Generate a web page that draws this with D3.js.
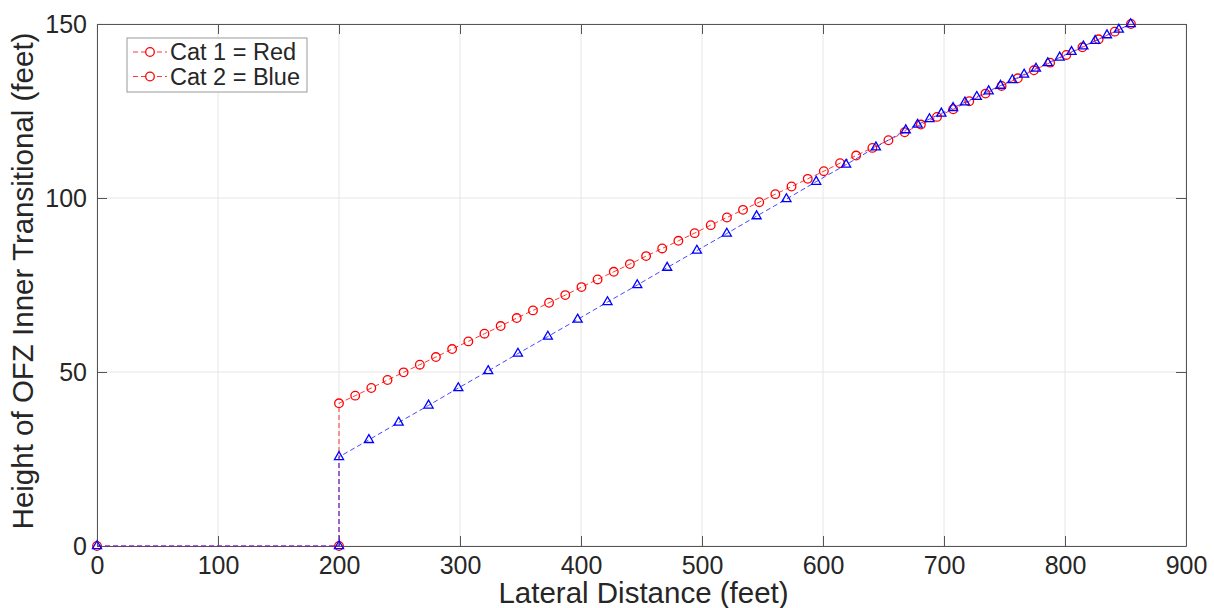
<!DOCTYPE html>
<html>
<head>
<meta charset="utf-8">
<script src="https://cdn.jsdelivr.net/npm/d3@7"></script>
<style>
    body { margin: 0; background: #fff; }
    text { font-family: "Liberation Sans", Arial, Helvetica, sans-serif; fill: #262626; }
</style>
</head>
<body>
<div id="chart"></div>
<script>
// data
const redX = [0, 200, 200, 213.4, 226.7, 240.1, 253.4, 266.8, 280.1, 293.5, 306.9, 320.2,
    333.6, 346.9, 360.3, 373.6, 387.0, 400.4, 413.7, 427.1, 440.4, 453.8, 467.1, 480.5,
    493.9, 507.2, 520.6, 533.9, 547.3, 560.6, 574.0, 587.4, 600.7, 614.1, 627.4, 640.8,
    654.1, 667.5, 680.9, 694.2, 707.6, 720.9, 734.3, 747.6, 761.0, 774.3, 787.7, 801.1,
    814.4, 827.8, 841.1, 854.5];
const redY = [0, 0, 41.0, 43.2, 45.4, 47.7, 49.9, 52.1, 54.3, 56.6, 58.8, 61.0,
    63.2, 65.5, 67.7, 69.9, 72.1, 74.4, 76.6, 78.8, 81.0, 83.3, 85.5, 87.7,
    89.9, 92.2, 94.4, 96.6, 98.8, 101.1, 103.3, 105.5, 107.7, 110.0, 112.2, 114.4,
    116.6, 118.9, 121.1, 123.3, 125.5, 127.8, 130.0, 132.2, 134.4, 136.7, 138.9, 141.1,
    143.3, 145.6, 147.8, 150.0];

const blueX = [0, 200, 200, 224.7, 249.3, 274.0, 298.6, 323.3, 347.9, 372.6, 397.2, 421.9,
    446.5, 471.2, 495.8, 520.5, 545.1, 569.8, 594.4, 619.1, 643.7, 668.4,
    678.2, 688.0, 697.8, 707.5, 717.3, 727.1, 736.9, 746.7, 756.5, 766.2,
    776.0, 785.8, 795.6, 805.4, 815.2, 824.9, 834.7, 844.5, 854.3];
const blueY = [0, 0, 25.6, 30.5, 35.5, 40.4, 45.4, 50.3, 55.3, 60.2, 65.1, 70.1,
    75.0, 80.0, 84.9, 89.8, 94.8, 99.7, 104.7, 109.6, 114.6, 119.5,
    121.1, 122.7, 124.3, 125.9, 127.5, 129.1, 130.7, 132.3, 133.9, 135.5,
    137.2, 138.8, 140.4, 142.0, 143.6, 145.2, 146.8, 148.4, 150.0];

const xTicks = [0, 100, 200, 300, 400, 500, 600, 700, 800, 900];
const yTicks = [0, 50, 100, 150];
const legendLabels = ["Cat 1 = Red", "Cat 2 = Blue"];

let margin = {top: 24, right: 28, bottom: 62, left: 97},
    width = 1214 - margin.left - margin.right,
    height = 608 - margin.top - margin.bottom;

let svg = d3.select("#chart")
    .append("svg")
    .attr("width", 1214)
    .attr("height", 608)
    .append("g")
    .attr("transform", `translate(${margin.left}, ${margin.top})`);

let x = d3.scaleLinear().domain([0, 900]).range([0, width]);
let y = d3.scaleLinear().domain([0, 150]).range([height, 0]);

// grid
svg.append("g")
    .selectAll("line")
    .data(xTicks)
    .enter()
    .append("line")
    .attr("x1", d => x(d)).attr("x2", d => x(d))
    .attr("y1", 0).attr("y2", height)
    .attr("stroke", "#e6e6e6");
svg.append("g")
    .selectAll("line")
    .data(yTicks)
    .enter()
    .append("line")
    .attr("x1", 0).attr("x2", width)
    .attr("y1", d => y(d)).attr("y2", d => y(d))
    .attr("stroke", "#e6e6e6");

// axes, ticks pointing inward on all four sides
let styleAxis = function(g) {
    g.select(".domain").attr("stroke", "#555");
    g.selectAll(".tick line").attr("stroke", "#555");
    g.selectAll(".tick text").style("font-size", "25px").attr("fill", "#262626");
};

svg.append("g")
    .attr("transform", "translate(0," + height + ")")
    .call(d3.axisBottom(x).tickValues(xTicks).tickSizeInner(-10).tickSizeOuter(0).tickPadding(10))
    .call(styleAxis);
svg.append("g")
    .call(d3.axisTop(x).tickValues(xTicks).tickSizeInner(-10).tickSizeOuter(0).tickFormat(""))
    .call(styleAxis);
svg.append("g")
    .call(d3.axisLeft(y).tickValues(yTicks).tickSizeInner(-10).tickSizeOuter(0).tickPadding(10))
    .call(styleAxis);
svg.append("g")
    .attr("transform", "translate(" + width + ",0)")
    .call(d3.axisRight(y).tickValues(yTicks).tickSizeInner(-10).tickSizeOuter(0).tickFormat(""))
    .call(styleAxis);

// axis labels
svg.append("text")
    .attr("x", width / 2 + 2)
    .attr("y", height + 57)
    .attr("text-anchor", "middle")
    .style("font-size", "29.5px")
    .text("Lateral Distance (feet)");
svg.append("text")
    .attr("transform", `translate(${-64}, ${height / 2 - 4}) rotate(-90)`)
    .attr("text-anchor", "middle")
    .style("font-size", "29.5px")
    .text("Height of OFZ Inner Transitional (feet)");

let line = d3.line()
    .x(d => x(d[0]))
    .y(d => y(d[1]));

let red = redX.map((v, i) => [v, redY[i]]);
let blue = blueX.map((v, i) => [v, blueY[i]]);

// red series
svg.append("path")
    .datum(red)
    .attr("fill", "none")
    .attr("stroke", "#ff2020")
    .attr("stroke-width", 0.9)
    .attr("stroke-dasharray", "5,3")
    .attr("d", line);
svg.append("g")
    .selectAll("circle")
    .data(red)
    .enter()
    .append("circle")
    .attr("cx", d => x(d[0]))
    .attr("cy", d => y(d[1]))
    .attr("r", 4.3)
    .attr("fill", "none")
    .attr("stroke", "#ff0000")
    .attr("stroke-width", 1.3);

// blue series
svg.append("path")
    .datum(blue)
    .attr("fill", "none")
    .attr("stroke", "#3030ff")
    .attr("stroke-width", 0.9)
    .attr("stroke-dasharray", "5,3")
    .attr("d", line);
svg.append("g")
    .selectAll("path")
    .data(blue)
    .enter()
    .append("path")
    .attr("transform", d => `translate(${x(d[0])}, ${y(d[1])})`)
    .attr("d", d3.symbol().type(d3.symbolTriangle).size(36))
    .attr("fill", "none")
    .attr("stroke", "#0000ff")
    .attr("stroke-width", 1.3);

// legend (both entries drawn red, as in the original)
let legend = svg.append("g")
    .attr("transform", "translate(30, 14)");
legend.append("rect")
    .attr("width", 180)
    .attr("height", 54)
    .attr("fill", "#fff")
    .attr("stroke", "#999");
let items = legend.selectAll(".item")
    .data(legendLabels)
    .enter()
    .append("g")
    .attr("transform", (d, i) => `translate(0, ${14 + i * 24.5})`);
items.append("line")
    .attr("x1", 6).attr("x2", 40)
    .attr("stroke", "#ff2020")
    .attr("stroke-width", 0.9)
    .attr("stroke-dasharray", "5,3");
items.append("circle")
    .attr("cx", 23)
    .attr("r", 4.3)
    .attr("fill", "#fff")
    .attr("stroke", "#ff0000")
    .attr("stroke-width", 1.3);
items.append("text")
    .attr("x", 43)
    .attr("dy", "0.35em")
    .style("font-size", "23.5px")
    .text(d => d);
</script>
</body>
</html>
